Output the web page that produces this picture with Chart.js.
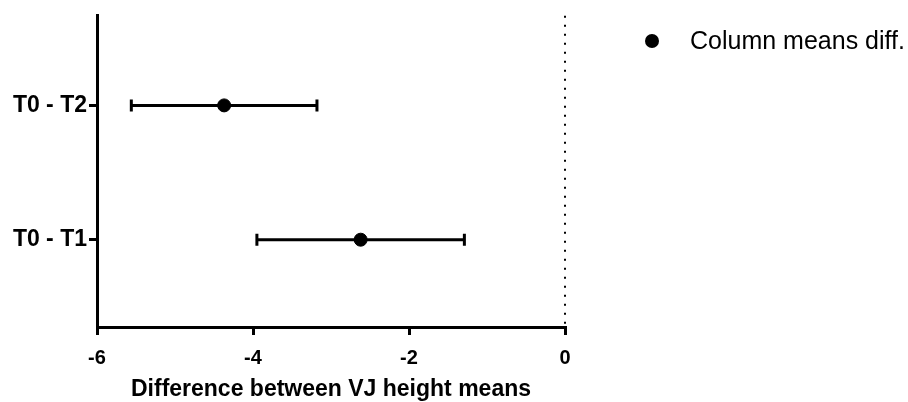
<!DOCTYPE html>
<html>
<head>
<meta charset="utf-8">
<script src="https://cdn.jsdelivr.net/npm/chart.js@4.4.0/dist/chart.umd.min.js"></script>
<style>
    body { margin: 0; background: #fff; }
    .wrap { position: relative; width: 908px; height: 402px; }
    .legend {
        position: absolute; left: 645px; top: 26px;
        font: 25px "Liberation Sans", Arial, sans-serif; color: #000;
        display: flex; align-items: center; white-space: nowrap;
    }
    .legend .dot {
        width: 14px; height: 14px; border-radius: 50%; background: #000;
        margin-right: 31px;
    }
</style>
</head>
<body>
<div class="wrap">
    <canvas id="chart" width="908" height="402"></canvas>
    <div class="legend"><span class="dot"></span><span>Column means diff.</span></div>
</div>
<script>
const categories = ['T0 - T1', 'T0 - T2'];
const means = [-2.62, -4.37];
const lower = [-3.95, -5.56];
const upper = [-1.29, -3.18];
const xTicks = [-6, -4, -2, 0];

const errorBars = {
    id: 'errorBars',
    afterDatasetsDraw(chart) {
        const { ctx, scales: { x, y }, chartArea } = chart;
        ctx.save();
        // dotted zero line
        ctx.strokeStyle = '#000';
        ctx.lineWidth = 2;
        ctx.setLineDash([2, 7]);
        ctx.beginPath();
        ctx.moveTo(x.getPixelForValue(0), chartArea.top);
        ctx.lineTo(x.getPixelForValue(0), chartArea.bottom);
        ctx.stroke();
        ctx.setLineDash([]);

        ctx.lineWidth = 3;
        for (let i = 0; i < categories.length; i++) {
            const py = y.getPixelForValue(i + 1);
            const x1 = x.getPixelForValue(lower[i]);
            const x2 = x.getPixelForValue(upper[i]);
            ctx.beginPath();
            ctx.moveTo(x1, py);
            ctx.lineTo(x2, py);
            ctx.moveTo(x1, py - 6);
            ctx.lineTo(x1, py + 6);
            ctx.moveTo(x2, py - 6);
            ctx.lineTo(x2, py + 6);
            ctx.stroke();
        }
        ctx.restore();
    },
};

const ctx = document.getElementById('chart').getContext('2d');

new Chart(ctx, {
    type: 'scatter',
    data: {
        datasets: [
            {
                label: 'Column means diff.',
                data: means.map((m, i) => ({ x: m, y: i + 1 })),
                backgroundColor: '#000',
                borderColor: '#000',
                pointRadius: 6.5,
                pointHoverRadius: 6.5,
            },
        ],
    },
    options: {
        responsive: false,
        animation: false,
        layout: { padding: { top: 14, right: 343, left: 0, bottom: 0 } },
        plugins: {
            legend: { display: false },
            tooltip: { enabled: false },
        },
        scales: {
            x: {
                type: 'linear',
                min: -6,
                max: 0,
                afterBuildTicks: (scale) => {
                    scale.ticks = xTicks.map((v) => ({ value: v }));
                },
                afterFit: (scale) => {
                    scale.height = 75;
                },
                grid: {
                    drawOnChartArea: false,
                    drawTicks: true,
                    tickLength: 8,
                    color: '#000',
                    lineWidth: 3,
                },
                border: { color: '#000', width: 3 },
                ticks: {
                    color: '#000',
                    padding: 11,
                    font: { family: 'Liberation Sans', size: 20, weight: 'bold' },
                },
                title: {
                    display: true,
                    text: 'Difference between VJ height means',
                    color: '#000',
                    padding: { top: 4, bottom: -1 },
                    font: { family: 'Liberation Sans', size: 23, weight: 'bold' },
                },
            },
            y: {
                type: 'linear',
                min: 0.35,
                max: 2.667,
                afterBuildTicks: (scale) => {
                    scale.ticks = categories.map((c, i) => ({ value: i + 1 }));
                },
                afterFit: (scale) => {
                    scale.width = 97;
                },
                grid: {
                    drawOnChartArea: false,
                    drawTicks: true,
                    tickLength: 8,
                    color: '#000',
                    lineWidth: 3,
                },
                border: { color: '#000', width: 3 },
                ticks: {
                    color: '#000',
                    padding: 2,
                    font: { family: 'Liberation Sans', size: 23, weight: 'bold' },
                    callback: (val) => categories[val - 1],
                },
            },
        },
    },
    plugins: [errorBars],
});
</script>
</body>
</html>
